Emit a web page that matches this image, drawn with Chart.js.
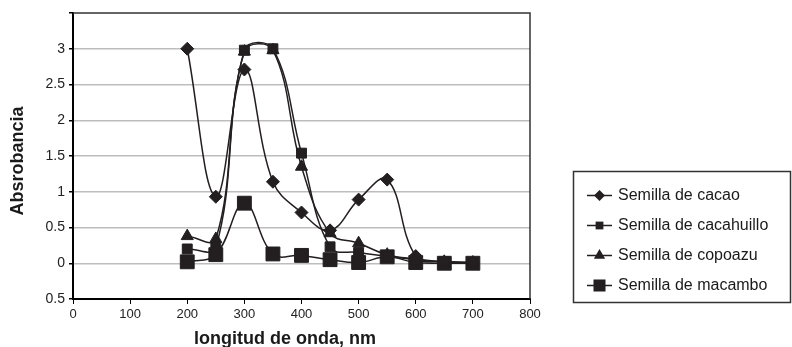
<!DOCTYPE html>
<html>
<head>
<meta charset="utf-8">
<script src="https://cdn.jsdelivr.net/npm/chart.js@4/dist/chart.umd.min.js"></script>
<style>
  html, body { margin: 0; padding: 0; background: #fff; }
</style>
</head>
<body>
<canvas id="chart" width="792" height="347"></canvas>
<script>
// wavelengths (nm) and absorbance per seed
const wavelengths = [200, 250, 300, 350, 400, 450, 500, 550, 600, 650, 700];
const cacao      = [3.0, 0.93, 2.71, 1.14, 0.71, 0.46, 0.89, 1.17, 0.10, 0.02, 0.01];
const cacahuillo = [0.20, 0.22, 2.98, 3.0, 1.54, 0.23, 0.15, 0.10, 0.05, 0.02, 0.01];
const copoazu    = [0.38, 0.34, 2.96, 2.98, 1.35, 0.42, 0.28, 0.12, 0.06, 0.02, 0.01];
const macambo    = [0.02, 0.12, 0.84, 0.13, 0.11, 0.05, 0.01, 0.09, 0.01, 0.0, 0.0];
const seriesNames = ['Semilla de cacao', 'Semilla de cacahuillo', 'Semilla de copoazu', 'Semilla de macambo'];
const yTicks = [-0.5, 0, 0.5, 1, 1.5, 2, 2.5, 3, 3.5];
const xTitle = 'longitud de onda, nm';
const yTitle = 'Absrobancia';

const INK = '#231f20';
const FONT = "'Liberation Sans', Arial, sans-serif";

const markers = [
  { style: 'rectRot', r: 6.5, lr: 5.5 },
  { style: 'rect', r: 7, lr: 5.5 },
  { style: 'triangle', r: 7, lr: 6.5 },
  { style: 'rect', r: 9.8, lr: 8.5 }
];

function toPoints(vals) {
  return wavelengths.map((x, i) => ({ x, y: vals[i] }));
}

const datasets = [cacao, cacahuillo, copoazu, macambo].map((vals, i) => ({
  label: seriesNames[i],
  data: toPoints(vals),
  borderColor: INK,
  backgroundColor: INK,
  borderWidth: 1.5,
  tension: 0.4,
  pointStyle: markers[i].style,
  pointRadius: markers[i].r,
  pointBackgroundColor: INK,
  pointBorderColor: INK,
  pointBorderWidth: 1
}));

// own marker shapes for the legend
function drawMarker(ctx, style, x, y, r) {
  ctx.beginPath();
  if (style === 'rectRot') {
    ctx.moveTo(x, y - r); ctx.lineTo(x + r, y); ctx.lineTo(x, y + r); ctx.lineTo(x - r, y);
  } else if (style === 'rect') {
    const s = r * Math.SQRT1_2;
    ctx.rect(x - s, y - s, 2 * s, 2 * s);
  } else if (style === 'triangle') {
    ctx.moveTo(x, y - r);
    ctx.lineTo(x + r * 0.866, y + r / 2);
    ctx.lineTo(x - r * 0.866, y + r / 2);
  }
  ctx.closePath();
  ctx.fill();
}

const plotFrame = {
  id: 'plotFrame',
  beforeDatasetsDraw(chart) {
    const { ctx, chartArea: a } = chart;
    ctx.save();
    ctx.strokeStyle = '#333';
    ctx.lineWidth = 1.5;
    ctx.beginPath();
    ctx.moveTo(a.left, a.top);
    ctx.lineTo(a.right, a.top);
    ctx.lineTo(a.right, a.bottom);
    ctx.stroke();
    ctx.restore();
  }
};

// axis titles, placed as in the original
const axisTitles = {
  id: 'axisTitles',
  afterDraw(chart) {
    const ctx = chart.ctx;
    ctx.save();
    ctx.fillStyle = '#1a1a1a';
    ctx.font = 'bold 18px ' + FONT;
    ctx.textAlign = 'center';
    ctx.textBaseline = 'middle';
    ctx.fillText(xTitle, 285, 339);
    ctx.translate(18, 161);
    ctx.rotate(-Math.PI / 2);
    ctx.fillText(yTitle, 0, 0);
    ctx.restore();
  }
};

const boxLegend = {
  id: 'boxLegend',
  afterDraw(chart) {
    const ctx = chart.ctx;
    ctx.save();
    ctx.strokeStyle = '#333';
    ctx.lineWidth = 1.5;
    ctx.strokeRect(573.5, 171.5, 217, 131);
    ctx.font = '16px ' + FONT;
    ctx.textBaseline = 'middle';
    chart.data.datasets.forEach((ds, i) => {
      const y = 195.5 + i * 30;
      ctx.strokeStyle = INK;
      ctx.fillStyle = INK;
      ctx.lineWidth = 1.5;
      ctx.beginPath();
      ctx.moveTo(587, y);
      ctx.lineTo(612, y);
      ctx.stroke();
      drawMarker(ctx, markers[i].style, 599.5, y, markers[i].lr);
      ctx.fillStyle = '#1a1a1a';
      ctx.fillText(ds.label, 618, y + 0.5);
    });
    ctx.restore();
  }
};

new Chart(document.getElementById('chart'), {
  type: 'line',
  data: { datasets },
  options: {
    responsive: false,
    animation: false,
    layout: { padding: { top: 13, right: 262, bottom: 0, left: 0 } },
    plugins: { legend: { display: false }, tooltip: { enabled: false } },
    scales: {
      x: {
        type: 'linear',
        min: 0,
        max: 800,
        ticks: { stepSize: 100, color: '#222', font: { family: FONT, size: 13 }, padding: 3 },
        grid: { drawOnChartArea: false, tickLength: 5, tickColor: '#000' },
        border: { color: '#000', width: 2 },
        title: { display: false },
        afterFit(s) { s.height = 48; }
      },
      y: {
        type: 'linear',
        min: -0.5,
        max: 3.5,
        afterBuildTicks(s) { s.ticks = yTicks.map(v => ({ value: v })); },
        ticks: {
          color: '#222',
          font: { family: FONT, size: 14 },
          padding: 4,
          callback: v => (v === 3.5 ? '' : String(Math.abs(v)))
        },
        grid: {
          color: c => (c.tick && (c.tick.value === -0.5 || c.tick.value === 3.5) ? 'rgba(0,0,0,0)' : '#bdbdbd'),
          lineWidth: 1.5,
          tickLength: 4,
          tickColor: '#000'
        },
        border: { color: '#000', width: 2 },
        title: { display: false },
        afterFit(s) { s.width = 73; }
      }
    }
  },
  plugins: [plotFrame, axisTitles, boxLegend]
});
</script>
</body>
</html>
